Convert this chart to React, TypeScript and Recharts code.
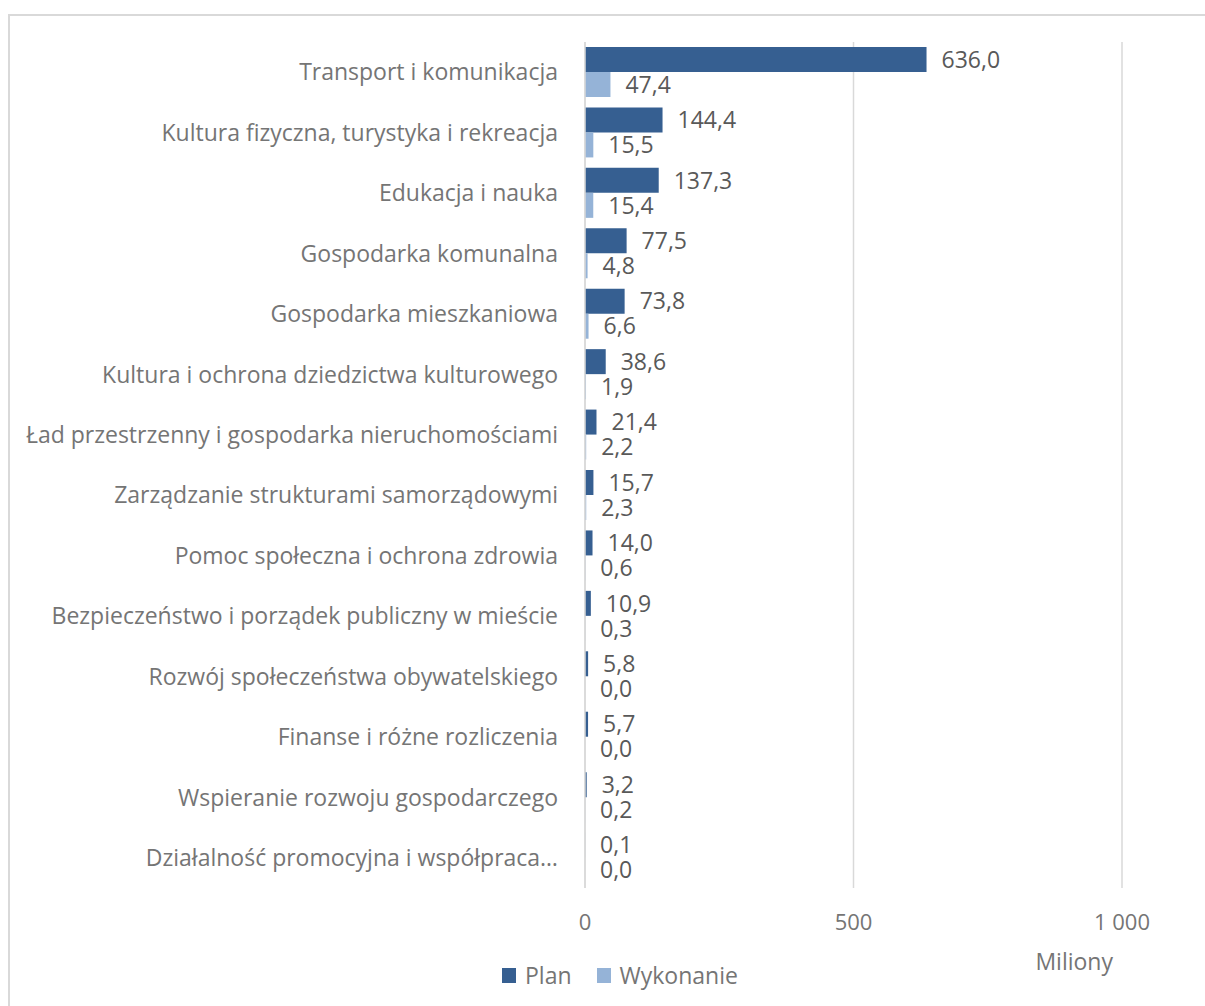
import { Bar, BarChart, CartesianGrid, LabelList, XAxis, YAxis } from 'recharts';

// ── Data ───────────────────────────────────────────────────────────────────────

const CATEGORIES = [
  'Transport i komunikacja',
  'Kultura fizyczna, turystyka i rekreacja',
  'Edukacja i nauka',
  'Gospodarka komunalna',
  'Gospodarka mieszkaniowa',
  'Kultura i ochrona dziedzictwa kulturowego',
  'Ład przestrzenny i gospodarka nieruchomościami',
  'Zarządzanie strukturami samorządowymi',
  'Pomoc społeczna i ochrona zdrowia',
  'Bezpieczeństwo i porządek publiczny w mieście',
  'Rozwój społeczeństwa obywatelskiego',
  'Finanse i różne rozliczenia',
  'Wspieranie rozwoju gospodarczego',
  'Działalność promocyjna i współpraca…',
];

const PLAN = [636.0, 144.4, 137.3, 77.5, 73.8, 38.6, 21.4, 15.7, 14.0, 10.9, 5.8, 5.7, 3.2, 0.1];
const WYKONANIE = [47.4, 15.5, 15.4, 4.8, 6.6, 1.9, 2.2, 2.3, 0.6, 0.3, 0.0, 0.0, 0.2, 0.0];

const X_TICKS = [0, 500, 1000];

const data = CATEGORIES.map((name, i) => ({ name, plan: PLAN[i], wyk: WYKONANIE[i] }));

// ── Styles ─────────────────────────────────────────────────────────────────────

const FONT = '"Open Sans", Lato, sans-serif';
const C_PLAN = '#365f91';
const C_WYK = '#95b3d7';
const GRID = '#d9d9d9';
const TEXT = '#595959';
const AXIS_TEXT = '#757575';
const LABEL_GAP = 15;

const fmtVal = (v: number) => v.toFixed(1).replace('.', ',');
const fmtTick = (v: number) => (v >= 1000 ? '1 000' : String(v));

// Labels for both series, hung off the Plan bar geometry: Recharts skips
// zero-width bars, so the "0,0" Wykonanie labels are placed from here.
// The Wykonanie bar sits right below the Plan bar (barGap 0) and its length
// is the Plan length scaled by wyk/plan (linear axis from 0).
function PairLabel(props: any) {
  const { x, y, width, height, index } = props;
  const d = data[index];
  if (!d) return null;
  const bx = Number(x);
  const by = Number(y);
  const w = Number(width || 0);
  const h = Number(height);
  const wykW = d.plan > 0 ? (w * d.wyk) / d.plan : 0;
  const common = { fontSize: 23, fill: TEXT, fontFamily: FONT, dy: '0.36em' };
  return (
    <g>
      <text x={bx + w + LABEL_GAP} y={by + h / 2} {...common}>{fmtVal(d.plan)}</text>
      <text x={bx + wykW + LABEL_GAP} y={by + h * 1.5} {...common}>{fmtVal(d.wyk)}</text>
    </g>
  );
}

function LegendBox() {
  const items = [
    { label: 'Plan', color: C_PLAN },
    { label: 'Wykonanie', color: C_WYK },
  ];
  return (
    <div
      style={{
        position: 'absolute', left: 502, top: 962,
        display: 'flex', alignItems: 'center', gap: 25,
        fontFamily: FONT, fontSize: 23, color: AXIS_TEXT, lineHeight: '26px',
      }}
    >
      {items.map(it => (
        <span key={it.label} style={{ display: 'flex', alignItems: 'center', gap: 9 }}>
          <span style={{ width: 14, height: 15, background: it.color, display: 'inline-block' }} />
          {it.label}
        </span>
      ))}
    </div>
  );
}

export default function App() {
  return (
    <div style={{ position: 'absolute', left: 0, top: 0, width: 1205, height: 1006, overflow: 'hidden', background: '#fff' }}>
      <div
        style={{
          position: 'absolute', left: 8, top: 14, width: 1210, height: 1010,
          borderLeft: `2px solid ${GRID}`, borderTop: `2px solid ${GRID}`,
        }}
      />
      <div style={{ position: 'absolute', left: 0, top: 0 }}>
        <BarChart
          width={1205}
          height={1006}
          data={data}
          layout="vertical"
          margin={{ top: 42, right: 83, bottom: 68, left: 0 }}
          barGap={0}
        >
          <CartesianGrid horizontal={false} stroke={GRID} strokeWidth={1.5} />
          <XAxis
            type="number"
            domain={[0, 1000]}
            ticks={X_TICKS}
            tickFormatter={fmtTick}
            axisLine={false}
            tickLine={false}
            tickMargin={20}
            height={50}
            tick={{ fontSize: 22, fill: AXIS_TEXT, fontFamily: FONT }}
            label={{
              value: 'Miliony', position: 'insideBottomRight', offset: 0, dx: -9, dy: 32,
              style: { fontSize: 23, fill: AXIS_TEXT, fontFamily: FONT },
            }}
          />
          <YAxis
            type="category"
            dataKey="name"
            width={585}
            axisLine={{ stroke: GRID, strokeWidth: 1.5 }}
            tickLine={false}
            tickSize={0}
            tickMargin={27}
            interval={0}
            tick={{ fontSize: 23, fill: AXIS_TEXT, fontFamily: FONT }}
          />
          <Bar dataKey="plan" name="Plan" fill={C_PLAN} barSize={25} isAnimationActive={false}>
            <LabelList dataKey="plan" content={PairLabel} />
          </Bar>
          <Bar dataKey="wyk" name="Wykonanie" fill={C_WYK} barSize={25} isAnimationActive={false} />
        </BarChart>
      </div>
      <LegendBox />
    </div>
  );
}
